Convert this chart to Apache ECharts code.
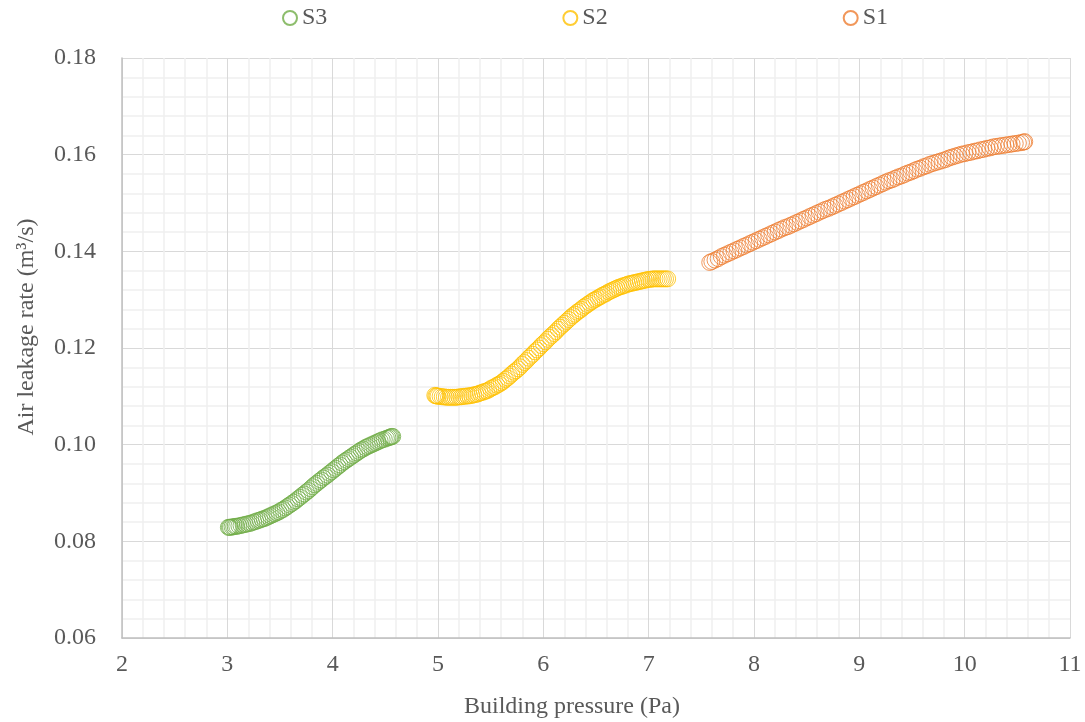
<!DOCTYPE html>
<html>
<head>
<meta charset="utf-8">
<script src="https://cdn.jsdelivr.net/npm/echarts@6/dist/echarts.min.js"></script>
<style>html,body{margin:0;padding:0;background:#fff;}#c{width:1085px;height:722px;}</style>
</head>
<body>
<div id="c"></div>
<script>
const seriesNames = ['S3', 'S2', 'S1'];
const seriesColors = ['#70AD47', '#FFC000', '#ED7D31'];
const xAxisTitle = 'Building pressure (Pa)';
const yAxisTitle = 'Air leakage rate (m³/s)';
const xTicks = [2, 3, 4, 5, 6, 7, 8, 9, 10, 11];
const yTicks = [0.06, 0.08, 0.10, 0.12, 0.14, 0.16, 0.18];

const s3 = [
[3.01,.0829],[3.02,.0829],[3.03,.0829],[3.045,.0830],[3.06,.0830],[3.075,.0831],[3.09,.0831],[3.11,.0832],[3.13,.0833],[3.15,.0834],
[3.17,.0835],[3.19,.0836],[3.21,.0837],[3.23,.0838],[3.25,.0840],[3.27,.0841],[3.29,.0843],[3.31,.0844],[3.33,.0846],[3.35,.0847],
[3.37,.0849],[3.39,.0851],[3.41,.0853],[3.43,.0855],[3.45,.0857],[3.47,.0859],[3.49,.0861],[3.51,.0864],[3.53,.0866],[3.55,.0869],
[3.57,.0872],[3.59,.0875],[3.61,.0878],[3.63,.0881],[3.65,.0884],[3.67,.0888],[3.69,.0891],[3.71,.0895],[3.73,.0898],[3.75,.0902],
[3.77,.0905],[3.79,.0909],[3.81,.0913],[3.83,.0917],[3.85,.0920],[3.87,.0924],[3.89,.0927],[3.91,.0931],[3.93,.0934],[3.95,.0937],
[3.97,.0941],[3.99,.0944],[4.01,.0948],[4.03,.0951],[4.05,.0955],[4.07,.0958],[4.09,.0962],[4.11,.0965],[4.13,.0968],[4.15,.0971],
[4.17,.0974],[4.19,.0977],[4.21,.0980],[4.23,.0983],[4.25,.0986],[4.27,.0989],[4.29,.0991],[4.31,.0994],[4.33,.0996],[4.35,.0998],
[4.37,.1000],[4.39,.1002],[4.41,.1004],[4.43,.1006],[4.45,.1008],[4.47,.1010],[4.49,.1011],[4.51,.1013],[4.525,.1014],[4.54,.1015],
[4.55,.1016],[4.56,.1017],[4.57,.1017]
];

const s2 = [
[4.97,.1102],[4.98,.1101],[4.99,.1101],[5.00,.1100],[5.02,.1100],[5.04,.1099],[5.06,.1099],[5.08,.1098],[5.10,.1098],[5.12,.1098],
[5.14,.1098],[5.16,.1098],[5.18,.1098],[5.20,.1099],[5.22,.1099],[5.24,.1100],[5.26,.1100],[5.28,.1101],[5.30,.1101],[5.32,.1102],
[5.34,.1103],[5.36,.1104],[5.38,.1105],[5.40,.1107],[5.42,.1108],[5.44,.1110],[5.46,.1111],[5.48,.1113],[5.50,.1116],[5.52,.1118],
[5.54,.1120],[5.56,.1123],[5.58,.1125],[5.60,.1128],[5.62,.1131],[5.64,.1135],[5.66,.1138],[5.68,.1142],[5.70,.1146],[5.72,.1150],
[5.74,.1153],[5.76,.1157],[5.78,.1161],[5.80,.1166],[5.82,.1170],[5.84,.1174],[5.86,.1179],[5.88,.1183],[5.90,.1187],[5.92,.1192],
[5.94,.1196],[5.96,.1200],[5.98,.1205],[6.00,.1209],[6.02,.1213],[6.04,.1218],[6.06,.1222],[6.08,.1226],[6.10,.1230],[6.12,.1234],
[6.14,.1239],[6.16,.1243],[6.18,.1247],[6.20,.1251],[6.22,.1255],[6.24,.1259],[6.26,.1263],[6.28,.1267],[6.30,.1270],[6.32,.1274],
[6.34,.1277],[6.36,.1280],[6.38,.1284],[6.40,.1287],[6.42,.1290],[6.44,.1293],[6.46,.1296],[6.48,.1299],[6.50,.1301],[6.52,.1304],
[6.54,.1306],[6.56,.1309],[6.58,.1311],[6.60,.1313],[6.62,.1316],[6.64,.1318],[6.66,.1320],[6.68,.1322],[6.70,.1324],[6.72,.1326],
[6.74,.1327],[6.76,.1329],[6.78,.1330],[6.80,.1332],[6.82,.1333],[6.84,.1334],[6.86,.1335],[6.88,.1336],[6.90,.1337],[6.92,.1338],
[6.94,.1339],[6.96,.1340],[6.98,.1341],[7.00,.1342],[7.02,.1342],[7.04,.1343],[7.06,.1343],[7.08,.1343],[7.10,.1343],[7.12,.1343],
[7.14,.1343],[7.16,.1343],[7.18,.1343]
];

const s1 = [
[7.58,.1377],[7.60,.1379],[7.63,.1382],[7.66,.1385],[7.69,.1389],[7.72,.1392],[7.75,.1395],[7.78,.1398],[7.81,.1401],[7.84,.1404],
[7.87,.1407],[7.90,.1410],[7.93,.1413],[7.96,.1416],[7.99,.1419],[8.02,.1422],[8.05,.1425],[8.08,.1428],[8.11,.1431],[8.14,.1434],
[8.17,.1437],[8.20,.1440],[8.23,.1443],[8.26,.1446],[8.29,.1449],[8.32,.1451],[8.35,.1454],[8.38,.1457],[8.41,.1460],[8.44,.1463],
[8.47,.1466],[8.50,.1469],[8.53,.1472],[8.56,.1475],[8.59,.1478],[8.62,.1481],[8.65,.1484],[8.68,.1487],[8.71,.1489],[8.74,.1492],
[8.77,.1495],[8.80,.1498],[8.83,.1501],[8.86,.1504],[8.89,.1507],[8.92,.1510],[8.95,.1513],[8.98,.1516],[9.01,.1519],[9.04,.1522],
[9.07,.1525],[9.10,.1528],[9.13,.1531],[9.16,.1534],[9.19,.1537],[9.22,.1540],[9.25,.1543],[9.28,.1546],[9.31,.1548],[9.34,.1551],
[9.37,.1554],[9.40,.1556],[9.43,.1559],[9.46,.1562],[9.49,.1564],[9.52,.1567],[9.55,.1570],[9.58,.1572],[9.61,.1575],[9.64,.1577],
[9.67,.1580],[9.70,.1582],[9.73,.1584],[9.76,.1586],[9.79,.1588],[9.82,.1590],[9.85,.1593],[9.88,.1595],[9.91,.1597],[9.94,.1599],
[9.97,.1601],[10.00,.1602],[10.03,.1604],[10.06,.1605],[10.09,.1607],[10.12,.1608],[10.15,.1610],[10.18,.1611],[10.21,.1613],[10.24,.1614],
[10.27,.1616],[10.30,.1617],[10.33,.1618],[10.36,.1619],[10.39,.1620],[10.42,.1621],[10.45,.1622],[10.48,.1623],[10.51,.1624],[10.54,.1625],
[10.56,.1626],[10.57,.1627]
];

const allData = [s3, s2, s1];
const FONT = '"Liberation Serif", "Times New Roman", serif';
const TXT = '#595959';

const chart = echarts.init(document.getElementById('c'), null, {renderer: 'canvas'});
chart.setOption({
  animation: false,
  backgroundColor: '#fff',
  textStyle: {fontFamily: FONT},
  grid: {left: 122, right: 15, top: 58, bottom: 84, containLabel: false},
  legend: {
    data: seriesNames,
    top: 6,
    left: 282,
    padding: 0,
    itemWidth: 14,
    itemHeight: 14,
    itemGap: 235,
    textStyle: {fontFamily: FONT, fontSize: 24, color: TXT}
  },
  xAxis: {
    type: 'value',
    min: xTicks[0], max: xTicks[xTicks.length - 1], interval: 1,
    axisLine: {show: true, lineStyle: {color: '#BFBFBF', width: 1.5}},
    axisTick: {show: false},
    axisLabel: {fontFamily: FONT, fontSize: 24, color: TXT, margin: 15},
    splitLine: {show: true, lineStyle: {color: '#D9D9D9', width: 1}},
    minorTick: {show: false, splitNumber: 5},
    minorSplitLine: {show: true, lineStyle: {color: '#EFEFEF', width: 1.5}}
  },
  yAxis: {
    type: 'value',
    min: yTicks[0], max: yTicks[yTicks.length - 1], interval: 0.02,
    axisLine: {show: true, lineStyle: {color: '#BFBFBF', width: 1.5}},
    axisTick: {show: false},
    axisLabel: {fontFamily: FONT, fontSize: 24, color: TXT, margin: 26, formatter: v => v.toFixed(2)},
    splitLine: {show: true, lineStyle: {color: '#D9D9D9', width: 1}},
    minorTick: {show: false, splitNumber: 5},
    minorSplitLine: {show: true, lineStyle: {color: '#EFEFEF', width: 1.5}}
  },
  graphic: [
    {type: 'text', x: 572, y: 707, style: {text: xAxisTitle, font: '24px ' + FONT, fill: TXT, align: 'center', verticalAlign: 'middle', textAlign: 'center', textVerticalAlign: 'middle'}},
    {type: 'text', x: 27, y: 327, rotation: Math.PI / 2, style: {text: yAxisTitle, font: '24px ' + FONT, fill: TXT, align: 'center', verticalAlign: 'middle', textAlign: 'center', textVerticalAlign: 'middle'}}
  ],
  series: seriesNames.map((n, i) => ({
    name: n,
    type: 'scatter',
    data: allData[i],
    symbol: 'circle',
    symbolSize: 16,
    itemStyle: {color: 'rgba(255,255,255,0)', borderColor: seriesColors[i], borderWidth: 1}
  }))
});
</script>
</body>
</html>
